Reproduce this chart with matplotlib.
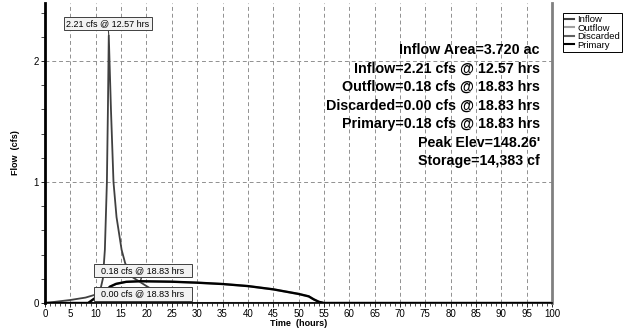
import numpy as np
import matplotlib.pyplot as plt
from matplotlib.lines import Line2D

plt.rcParams['font.family'] = ['Liberation Sans', 'DejaVu Sans']

# hydrograph values
t_inflow = [0, 2, 5, 8, 10, 10.8, 11.4, 11.8, 12.2, 12.4, 12.57, 13.0, 13.5, 14.1, 15.1,
            15.8, 17.0, 18.5, 20, 22, 24, 25.5, 100]
q_inflow = [0, 0.01, 0.025, 0.045, 0.07, 0.09, 0.2, 0.44, 1.0, 1.6, 2.21, 1.6, 1.0, 0.71,
            0.44, 0.33, 0.22, 0.18, 0.14, 0.09, 0.04, 0, 0]

t_primary = [0, 8.5, 9.5, 10, 11, 12, 12.8, 14, 14.8, 16, 18.83, 25, 30, 35, 40, 45, 50,
             52, 53, 54, 55, 100]
q_primary = [0, 0, 0.03, 0.045, 0.065, 0.1, 0.135, 0.158, 0.165, 0.175, 0.18, 0.176, 0.168,
             0.157, 0.14, 0.113, 0.075, 0.055, 0.03, 0.01, 0, 0]

t_discarded = [0, 100]
q_discarded = [0, 0]

summary = ["Inflow Area=3.720 ac",
           "Inflow=2.21 cfs @ 12.57 hrs",
           "Outflow=0.18 cfs @ 18.83 hrs",
           "Discarded=0.00 cfs @ 18.83 hrs",
           "Primary=0.18 cfs @ 18.83 hrs",
           "Peak Elev=148.26'",
           "Storage=14,383 cf"]

fig = plt.figure(figsize=(6.37, 3.29), dpi=100)
ax = fig.add_axes([0.0707, 0.079, 0.796, 0.912])

c_in, c_out, c_dis, c_pri = '#404040', '#a0a0a0', '#606060', 'black'
ax.plot(t_inflow, q_inflow, color=c_in, lw=1.3)
ax.plot(t_primary, q_primary, color=c_out, lw=1.5)
ax.plot(t_discarded, q_discarded, color=c_dis, lw=1.5)
ax.plot(t_primary, q_primary, color=c_pri, lw=1.7)

ax.set_xlim(0, 100)
ax.set_ylim(0, 2.48)
ax.set_xticks(np.arange(0, 101, 5))
ax.set_xticks(np.arange(0, 101, 1), minor=True)
ax.set_yticks([0, 1, 2])
ax.set_yticks(np.arange(0, 2.41, 0.2), minor=True)
ax.tick_params(axis='both', labelsize=7, length=3, width=0.6, pad=1.5)
ax.tick_params(axis='x', which='minor', length=2, width=0.5)
ax.tick_params(axis='y', which='minor', length=3, width=0.5)
ax.grid(True, which='major', color='#909090', ls=(0, (4, 3)), lw=0.7)

ax.spines['top'].set_visible(False)
ax.spines['left'].set_linewidth(2)
ax.spines['left'].set_color('black')
ax.spines['right'].set_linewidth(2)
ax.spines['right'].set_color('#808080')
ax.spines['bottom'].set_linewidth(1.2)

ax.set_xlabel('Time  (hours)', fontsize=6.5, fontweight='bold', labelpad=0)
ax.set_ylabel('Flow  (cfs)', fontsize=6.5, fontweight='bold', labelpad=10)

box = dict(boxstyle='square,pad=0.25', fc='#f2f2f2', ec='#404040', lw=0.7)
ax.annotate('2.21 cfs @ 12.57 hrs', xy=(12.57, 2.21), xytext=(12.4, 2.31),
            ha='center', va='center', fontsize=6.5, bbox=box,
            arrowprops=dict(arrowstyle='-', color='#404040', lw=0.8, shrinkA=0, shrinkB=0))
ax.annotate('  0.18 cfs @ 18.83 hrs  ', xy=(18.83, 0.18), xytext=(19.3, 0.268),
            ha='center', va='center', fontsize=6.5, bbox=box,
            arrowprops=dict(arrowstyle='-', color='black', lw=0.8, shrinkA=0, shrinkB=0))
ax.annotate('  0.00 cfs @ 18.83 hrs  ', xy=(18.83, 0.0), xytext=(19.3, 0.074),
            ha='center', va='center', fontsize=6.5, bbox=box,
            arrowprops=dict(arrowstyle='-', color='black', lw=0.8, shrinkA=0, shrinkB=0))

for i, line in enumerate(summary):
    ax.text(97.6, 2.09 - i * 0.153, line, ha='right', va='center',
            fontsize=10.3, fontweight='bold')

handles = [Line2D([], [], color=c, lw=1.5) for c in (c_in, c_out, c_dis, c_pri)]
leg = fig.legend(handles, ['Inflow', 'Outflow', 'Discarded', 'Primary'],
                 loc='upper left', bbox_to_anchor=(0.884, 0.960), fontsize=6.8,
                 handlelength=1.0, handletextpad=0.3, labelspacing=-0.05,
                 borderpad=0.2, borderaxespad=0, fancybox=False, framealpha=1)
leg.get_frame().set_edgecolor('black')
leg.get_frame().set_linewidth(0.7)

fig.savefig('out.png', dpi=100)
